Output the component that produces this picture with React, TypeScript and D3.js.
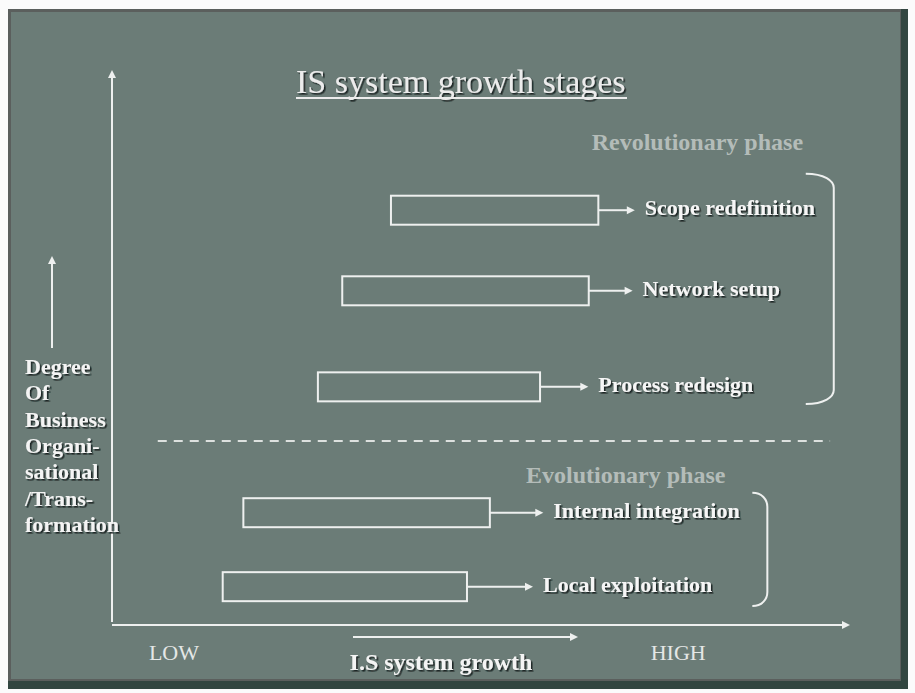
import { scaleLinear } from "d3";

// stages, bottom to top
const stages = [
	"Local exploitation",
	"Internal integration",
	"Process redesign",
	"Network setup",
	"Scope redefinition",
];
const growthStart = [15.0, 17.8, 27.9, 31.2, 37.8];
const growthEnd = [48.1, 51.2, 58.0, 64.6, 65.9];
const degree = [6.4, 19.8, 42.6, 60.0, 74.6];
const labelAt = [58.4, 59.8, 65.9, 71.9, 72.2];

const phases = ["Evolutionary phase", "Revolutionary phase"];
const phaseLow = [2.9, 39.5];
const phaseHigh = [23.4, 81.2];
const phaseBraceAt = [88.8, 97.8];
const phaseLabelAt = [56.1, 65.0];
const phaseLabelDegree = [25.2, 85.5];
const dividerDegree = 32.8;
const dividerFrom = 6.2;
const dividerTo = 97.3;

const yAxisLabel = ["Degree", "Of", "Business", "Organi-", "sational", "/Trans-", "formation"];
const xTicks = ["LOW", "HIGH"];
const xTickAt = [5.0, 73.0];
const xAxisTitle = "I.S system growth";
const chartTitle = "IS system growth stages";

const W = 915;
const H = 693;
const BG = "#6b7c77";
const FONT = "'Liberation Serif', 'Times New Roman', serif";
const LINE = "#eef0ef";

const x = scaleLinear().domain([0, 100]).range([112, 850]);
const y = scaleLinear().domain([0, 100]).range([622, 70]);

const BAR_H = 29;

function arrowHead(tx: number, ty: number, dir: "right" | "up") {
	const l = 8;
	const w = 4;
	if (dir === "right") return `M${tx},${ty} L${tx - l},${ty - w} L${tx - l},${ty + w} Z`;
	return `M${tx},${ty} L${tx - w},${ty + l} L${tx + w},${ty + l} Z`;
}

function brace(bx: number, top: number, bottom: number, reach: number) {
	const r = Math.min(14, (bottom - top) / 6);
	return `M${bx - reach},${top} C${bx - reach / 3},${top} ${bx},${top + r / 2} ${bx},${top + r}
		L${bx},${bottom - r} C${bx},${bottom - r / 2} ${bx - reach / 3},${bottom} ${bx - reach},${bottom}`;
}

export default function App() {
	const x0 = x(0);
	const y0 = y(0);
	return (
		<svg
			width={W}
			height={H}
			style={{ position: "absolute", left: 0, top: 0 }}
			fontFamily={FONT}
		>
			<defs>
				<filter id="shadow" x="-10%" y="-30%" width="130%" height="170%">
					<feDropShadow dx="1.6" dy="1.6" stdDeviation="0.7" floodColor="#0e1614" floodOpacity="0.85" />
				</filter>
			</defs>
			<rect width={W} height={H} fill="#fbfbfb" />
			{/* slide frame */}
			<rect x={8} y={9} width={900} height={680} fill="#324640" />
			<rect x={8} y={9} width={893} height={672} fill="#5b5f5d" />
			<rect x={11} y={12} width={889} height={667} fill={BG} />

			{/* title */}
			<text x={296} y={93} fontSize={34} fill="#ececec" filter="url(#shadow)">
				{chartTitle}
			</text>
			<line x1={296} x2={627} y1={98} y2={98} stroke="#ececec" strokeWidth={2} />

			{/* axes */}
			<line x1={x0} x2={x0} y1={y0} y2={y(100) + 6} stroke={LINE} strokeWidth={2} />
			<path d={arrowHead(x0, y(100), "up")} fill={LINE} />
			<line x1={x0} x2={x(100) - 6} y1={y0 + 3} y2={y0 + 3} stroke={LINE} strokeWidth={2} />
			<path d={arrowHead(x(100), y0 + 3, "right")} fill={LINE} />

			{/* y axis caption */}
			<line x1={52} x2={52} y1={348} y2={262} stroke={LINE} strokeWidth={2} />
			<path d={arrowHead(52, 256, "up")} fill={LINE} />
			{yAxisLabel.map((t, i) => (
				<text
					key={t}
					x={25}
					y={374 + i * 26.3}
					fontSize={22}
					fontWeight="bold"
					fill="#f4f4f4"
					filter="url(#shadow)"
				>
					{t}
				</text>
			))}

			{/* x axis captions */}
			{xTicks.map((t, i) => (
				<text key={t} x={x(xTickAt[i])} y={660} fontSize={22} fill="#e4e7e6">
					{t}
				</text>
			))}
			<line x1={353} x2={570} y1={637} y2={637} stroke={LINE} strokeWidth={2} />
			<path d={arrowHead(578, 637, "right")} fill={LINE} />
			<text
				x={441}
				y={670}
				fontSize={24}
				fontWeight="bold"
				textAnchor="middle"
				fill="#f4f4f4"
				filter="url(#shadow)"
			>
				{xAxisTitle}
			</text>

			{/* divider */}
			<line
				x1={x(dividerFrom)}
				x2={x(dividerTo)}
				y1={y(dividerDegree)}
				y2={y(dividerDegree)}
				stroke="#dde1df"
				strokeWidth={2}
				strokeDasharray="9 7"
			/>

			{/* phases */}
			{phases.map((p, i) => (
				<g key={p}>
					<text
						x={x(phaseLabelAt[i])}
						y={y(phaseLabelDegree[i])}
						fontSize={24}
						fontWeight="bold"
						fill="#b4bcb9"
					>
						{p}
					</text>
					<path
						d={brace(x(phaseBraceAt[i]), y(phaseHigh[i]), y(phaseLow[i]), i === 0 ? 15 : 28)}
						fill="none"
						stroke={LINE}
						strokeWidth={2}
					/>
				</g>
			))}

			{/* stages */}
			{stages.map((s, i) => {
				const cy = y(degree[i]);
				const x1 = x(growthStart[i]);
				const x2 = x(growthEnd[i]);
				const lx = x(labelAt[i]);
				const tip = lx - 10;
				return (
					<g key={s}>
						<rect
							x={x1}
							y={cy - BAR_H / 2}
							width={x2 - x1}
							height={BAR_H}
							fill="none"
							stroke={LINE}
							strokeWidth={2}
						/>
						<line x1={x2} x2={tip - 6} y1={cy} y2={cy} stroke={LINE} strokeWidth={2} />
						<path d={arrowHead(tip, cy, "right")} fill={LINE} />
						<text
							x={lx}
							y={cy + 5}
							fontSize={22}
							fontWeight="bold"
							fill="#f6f6f6"
							filter="url(#shadow)"
						>
							{s}
						</text>
					</g>
				);
			})}
		</svg>
	);
}
